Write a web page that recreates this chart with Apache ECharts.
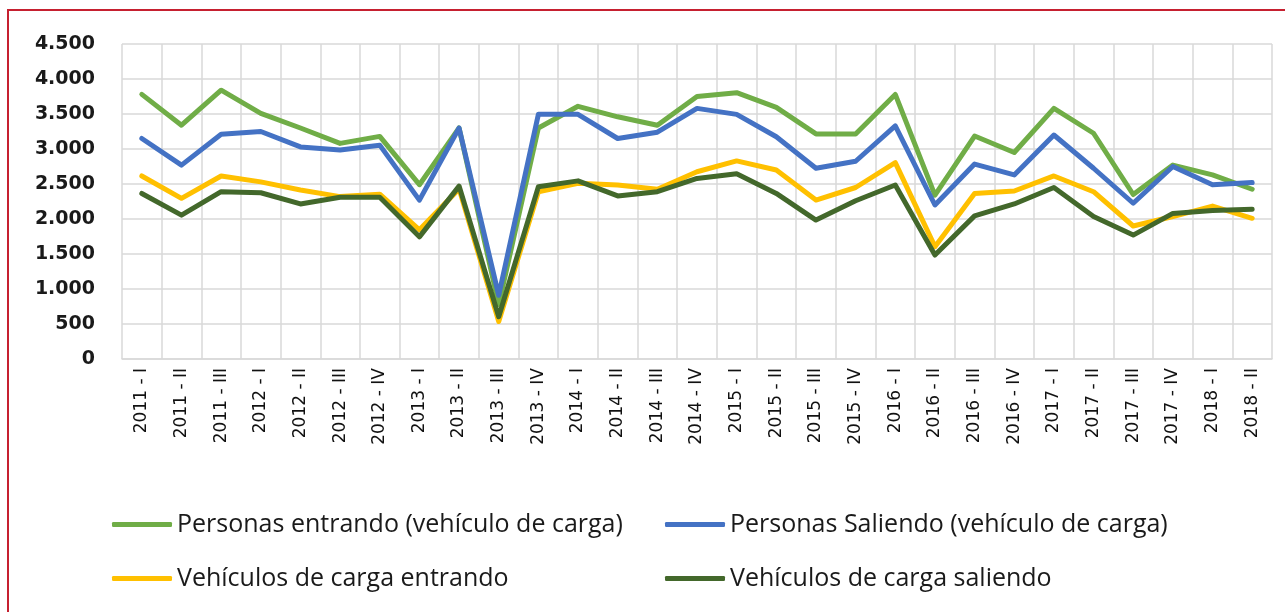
<!DOCTYPE html>
<html>
<head>
<meta charset="utf-8">
<script src="https://cdn.jsdelivr.net/npm/echarts@6/dist/echarts.min.js"></script>
<style>
  html, body { margin: 0; padding: 0; background: #ffffff; }
  #chart { width: 1285px; height: 612px; }
</style>
</head>
<body>
<div id="chart"></div>
<script>
// Trimestres
const categories = [
  '2011 - I', '2011 - II', '2011 - III',
  '2012 - I', '2012 - II', '2012 - III', '2012 - IV',
  '2013 - I', '2013 - II', '2013 - III', '2013 - IV',
  '2014 - I', '2014 - II', '2014 - III', '2014 - IV',
  '2015 - I', '2015 - II', '2015 - III', '2015 - IV',
  '2016 - I', '2016 - II', '2016 - III', '2016 - IV',
  '2017 - I', '2017 - II', '2017 - III', '2017 - IV',
  '2018 - I', '2018 - II'
];

const personasEntrando = [
  3780, 3340, 3840, 3510, 3300, 3080, 3180,
  2490, 3300, 780, 3300,
  3610, 3460, 3340, 3750,
  3805, 3595, 3215, 3215,
  3780, 2340, 3185, 2950,
  3580, 3225, 2350, 2770,
  2630, 2425
];

const personasSaliendo = [
  3150, 2770, 3210, 3250, 3030, 2985, 3055,
  2270, 3300, 910, 3495,
  3495, 3150, 3240, 3580,
  3495, 3175, 2725, 2825,
  3330, 2200, 2785, 2630,
  3200, 2725, 2225, 2750,
  2490, 2520
];

const vehiculosEntrando = [
  2615, 2295, 2615, 2530, 2415, 2320, 2355,
  1845, 2430, 535, 2390,
  2510, 2485, 2425, 2675,
  2830, 2700, 2270, 2450,
  2805, 1605, 2365, 2400,
  2615, 2390, 1900, 2035,
  2185, 2010
];

const vehiculosSaliendo = [
  2365, 2055, 2390, 2375, 2215, 2310, 2310,
  1745, 2470, 605, 2460,
  2545, 2330, 2390, 2580,
  2645, 2365, 1985, 2260,
  2485, 1485, 2045, 2215,
  2450, 2035, 1770, 2080,
  2120, 2140
];

const seriesNames = [
  'Personas entrando (vehículo de carga)',
  'Personas Saliendo (vehículo de carga)',
  'Vehículos de carga entrando',
  'Vehículos de carga saliendo'
];
const seriesColors = ['#70AD47', '#4472C4', '#FFC000', '#43682B'];
const seriesData = [personasEntrando, personasSaliendo, vehiculosEntrando, vehiculosSaliendo];

const formatMiles = v => String(v).replace(/\B(?=(\d{3})+(?!\d))/g, '.');

const legendText = {
  fontFamily: 'Open Sans',
  fontSize: 25,
  lineHeight: 24,
  color: '#1a1a1a'
};

const chart = echarts.init(document.getElementById('chart'), null, { renderer: 'canvas' });

chart.setOption({
  backgroundColor: '#ffffff',
  animation: false,
  graphic: [{
    type: 'polyline',
    shape: { points: [[8, 612], [8, 10], [1290, 10]] },
    style: { stroke: '#C62030', lineWidth: 2, fill: null },
    z: 10
  }],
  grid: { left: 122, right: 13, top: 44, bottom: 253, containLabel: false },
  legend: [
    {
      data: [seriesNames[0], seriesNames[2]],
      orient: 'vertical',
      left: 107, top: 507,
      itemWidth: 60, itemHeight: 5, itemGap: 29,
      icon: 'roundRect',
      textStyle: legendText
    },
    {
      data: [seriesNames[1], seriesNames[3]],
      orient: 'vertical',
      left: 660, top: 507,
      itemWidth: 60, itemHeight: 5, itemGap: 29,
      icon: 'roundRect',
      textStyle: legendText
    }
  ],
  xAxis: {
    type: 'category',
    data: categories,
    boundaryGap: true,
    axisLine: { show: true, lineStyle: { color: '#D9D9D9', width: 1.5 } },
    axisTick: { show: false },
    splitLine: { show: true, lineStyle: { color: '#D9D9D9', width: 1.5 } },
    axisLabel: {
      rotate: 90,
      interval: 0,
      margin: 9,
      fontFamily: 'DejaVu Sans',
      fontSize: 17,
      color: '#111111'
    }
  },
  yAxis: {
    type: 'value',
    min: 0, max: 4500, interval: 500,
    axisLine: { show: false },
    axisTick: { show: false },
    splitLine: { show: true, lineStyle: { color: '#D9D9D9', width: 1.5 } },
    axisLabel: {
      margin: 27,
      fontFamily: 'DejaVu Sans',
      fontWeight: 'bold',
      fontSize: 19,
      color: '#1a1a1a',
      formatter: formatMiles
    }
  },
  series: seriesData.map((d, i) => ({
    name: seriesNames[i],
    type: 'line',
    data: d,
    symbol: 'none',
    lineStyle: { width: 5, color: seriesColors[i], cap: 'round', join: 'round' },
    itemStyle: { color: seriesColors[i] }
  }))
});
</script>
</body>
</html>
